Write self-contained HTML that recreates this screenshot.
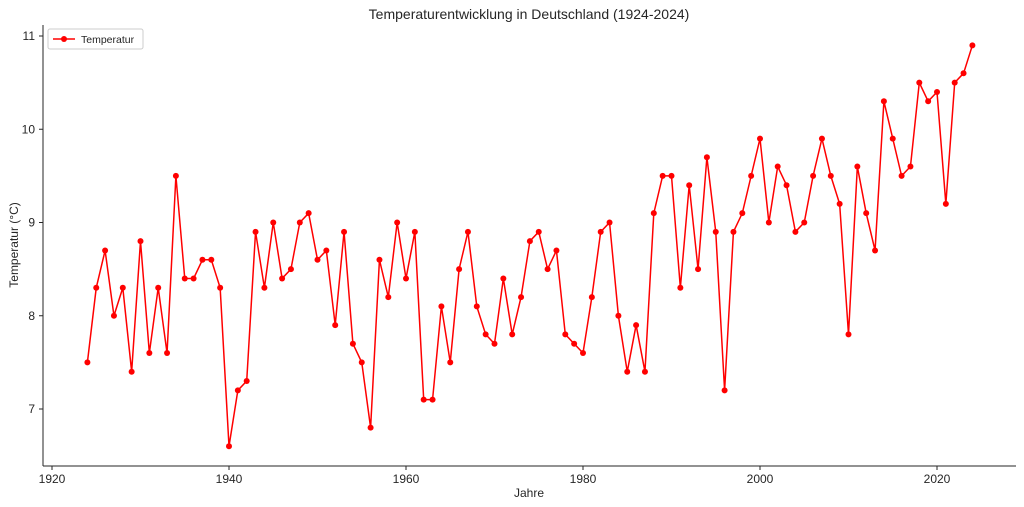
<!DOCTYPE html>
<html><head><meta charset="utf-8"><style>
html,body{margin:0;padding:0;background:#fff;}
svg{display:block;font-family:"Liberation Sans","DejaVu Sans",sans-serif;}
</style></head><body>
<svg id="chart" width="1024" height="507" viewBox="0 0 1024 507" xmlns="http://www.w3.org/2000/svg">
<rect width="1024" height="507" fill="#fff"/>
<text x="529" y="19" text-anchor="middle" font-size="14" fill="#262626">Temperaturentwicklung in Deutschland (1924-2024)</text>
<g id="grid"></g>
<line x1="43" y1="25" x2="43" y2="466" stroke="#262626" stroke-width="1"/>
<line x1="43" y1="466" x2="1016" y2="466" stroke="#262626" stroke-width="1"/>
<g id="xticks"></g><g id="yticks"></g>
<text x="529" y="497" text-anchor="middle" font-size="12" fill="#262626">Jahre</text>
<text x="18" y="245" text-anchor="middle" font-size="12" fill="#262626" transform="rotate(-90 18 245)">Temperatur (°C)</text>
<path id="line" fill="none" stroke="#ff0000" stroke-width="1.5"/>
<g id="points"></g>
<g>
<rect x="48" y="29" width="95" height="20" rx="2" fill="#fff" stroke="#cccccc"/>
<line x1="53" y1="39" x2="75" y2="39" stroke="#ff0000" stroke-width="1.5"/>
<circle cx="64" cy="39" r="3" fill="#ff0000"/>
<text x="81" y="43" font-size="10.5" fill="#262626">Temperatur</text>
</g>
</svg>
<script>
const startYear = 1924;
const temps = [7.5,8.3,8.7,8.0,8.3,7.4,8.8,7.6,8.3,7.6,9.5,8.4,8.4,8.6,8.6,8.3,6.6,7.2,7.3,8.9,8.3,9.0,8.4,8.5,9.0,9.1,8.6,8.7,7.9,8.9,7.7,7.5,6.8,8.6,8.2,9.0,8.4,8.9,7.1,7.1,8.1,7.5,8.5,8.9,8.1,7.8,7.7,8.4,7.8,8.2,8.8,8.9,8.5,8.7,7.8,7.7,7.6,8.2,8.9,9.0,8.0,7.4,7.9,7.4,9.1,9.5,9.5,8.3,9.4,8.5,9.7,8.9,7.2,8.9,9.1,9.5,9.9,9.0,9.6,9.4,8.9,9.0,9.5,9.9,9.5,9.2,7.8,9.6,9.1,8.7,10.3,9.9,9.5,9.6,10.5,10.3,10.4,9.2,10.5,10.6,10.9];
const xTicks = [1920,1940,1960,1980,2000,2020];
const yTicks = [7,8,9,10,11];
const NS="http://www.w3.org/2000/svg";
function xs(v){return 52+(v-1920)*(937-52)/100;}
function ys(v){return 409-(v-7)*(409-36)/4;}
const xt=document.getElementById('xticks'), yt=document.getElementById('yticks');
xTicks.forEach(t=>{
  const l=document.createElementNS(NS,'line');
  l.setAttribute('x1',xs(t));l.setAttribute('x2',xs(t));l.setAttribute('y1',466);l.setAttribute('y2',470);l.setAttribute('stroke','#262626');
  
  
  xt.appendChild(l);
  const tx=document.createElementNS(NS,'text');
  tx.setAttribute('x',xs(t));tx.setAttribute('y',483);tx.setAttribute('text-anchor','middle');tx.setAttribute('font-size','12');tx.setAttribute('fill','#262626');
  tx.textContent=t;
  
  
  xt.appendChild(tx);
});
yTicks.forEach(t=>{
  const l=document.createElementNS(NS,'line');
  l.setAttribute('x1',39);l.setAttribute('x2',43);l.setAttribute('y1',ys(t));l.setAttribute('y2',ys(t));l.setAttribute('stroke','#262626');
  
  
  yt.appendChild(l);
  const tx=document.createElementNS(NS,'text');
  tx.setAttribute('x',35);tx.setAttribute('y',ys(t)+4);tx.setAttribute('text-anchor','end');tx.setAttribute('font-size','12');tx.setAttribute('fill','#262626');
  tx.textContent=t;
  
  
  yt.appendChild(tx);
});
let d='';
const pts=document.getElementById('points');
temps.forEach((v,i)=>{
  const x=xs(startYear+i), y=ys(v);
  d+=(i?'L':'M')+x.toFixed(2)+' '+y.toFixed(2);
  const c=document.createElementNS(NS,'circle');
  c.setAttribute('cx',x);c.setAttribute('cy',y);c.setAttribute('r',3);c.setAttribute('fill','#ff0000');
  
  
  pts.appendChild(c);
});
document.getElementById('line').setAttribute('d',d);
</script>
</body></html>
